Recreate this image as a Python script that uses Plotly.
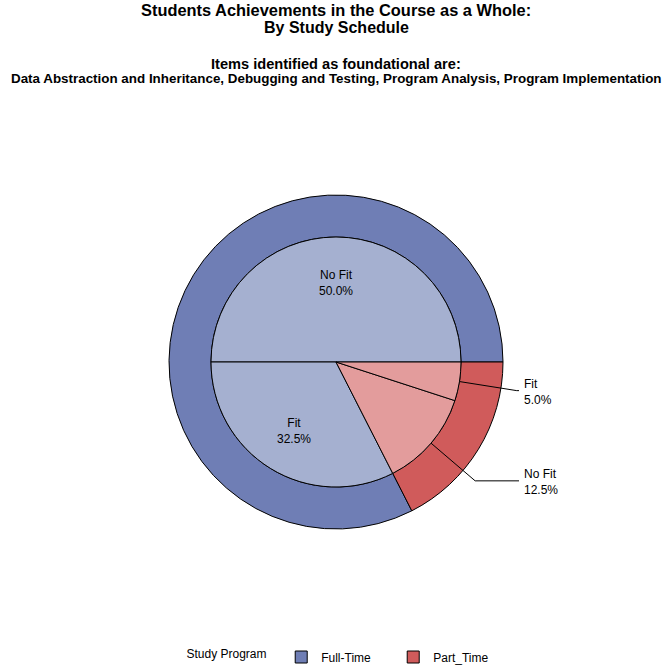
import plotly.graph_objects as go
import numpy as np

# outer ring: study schedule
schedules = ["Full-Time", "Part_Time"]
schedule_pct = [82.5, 17.5]

# inner pie: fit / no fit within each schedule
fit_labels = ["No Fit", "Fit", "No Fit", "Fit"]
fit_schedule = ["Full-Time", "Full-Time", "Part_Time", "Part_Time"]
fit_pct = [50.0, 32.5, 12.5, 5.0]

title_lines = ["Students Achievements in the Course as a Whole:", "By Study Schedule"]
foot_lines = ["Items identified as foundational are:",
              "Data Abstraction and Inheritance, Debugging and Testing, Program Analysis, Program Implementation"]

outer_colors = {"Full-Time": "#6F7EB5", "Part_Time": "#D05B5B"}
inner_colors = {"Full-Time": "#A5B0D0", "Part_Time": "#E39C9C"}
FONT = "Liberation Sans, Arial, sans-serif"

W = H = 672
cx, cy = 336, 362      # pie centre, px from top left
r_out, r_in = 167, 125


def px(x, y):
    return x / W, 1 - y / H


def dom(r):
    return dict(x=[(cx - r) / W, (cx + r) / W], y=[(H - cy - r) / H, (H - cy + r) / H])


def start_at_3(vals):
    # plotly puts the first ccw slice clockwise of `rotation`; shift so slices start at 3 o'clock
    return 90 - 360 * vals[0] / sum(vals)


def label(x, y, txt, xanchor="center"):
    xp, yp = px(x, y)
    fig.add_annotation(x=xp, y=yp, xref="paper", yref="paper", text=txt, showarrow=False,
                       xanchor=xanchor, yanchor="middle", align=xanchor if xanchor != "center" else "center",
                       font=dict(family=FONT, size=12, color="black"))


fig = go.Figure()

fig.add_trace(go.Pie(
    labels=schedules, values=schedule_pct, hole=r_in / r_out, sort=False,
    direction="counterclockwise", rotation=start_at_3(schedule_pct), textinfo="none",
    marker=dict(colors=[outer_colors[s] for s in schedules], line=dict(color="black", width=1)),
    domain=dom(r_out), name="Study Program"))

fig.add_trace(go.Pie(
    labels=[f"{s} {f}" for s, f in zip(fit_schedule, fit_labels)], values=fit_pct, sort=False,
    direction="counterclockwise", rotation=start_at_3(fit_pct), textinfo="none", showlegend=False,
    marker=dict(colors=[inner_colors[s] for s in fit_schedule], line=dict(color="black", width=1)),
    domain=dom(r_in)))

# slice labels
total = sum(fit_pct)
cum = np.cumsum([0] + fit_pct[:-1])
for lab, v, c in zip(fit_labels, fit_pct, cum):
    th = np.radians((c + v / 2) / total * 360)
    txt = f"{lab}<br>{v:.1f}%"
    if v >= 20:
        r = 0.64 * r_in
        label(cx + r * np.cos(th), cy - r * np.sin(th) + 1, txt)
    else:
        x0, y0 = cx + r_in * np.cos(th), cy - r_in * np.sin(th)
        x1, y1 = cx + 183 * np.cos(th), cy - 183 * np.sin(th)
        x2 = cx + 183
        a, b = px(x0, y0)
        c1, d1 = px(x1, y1)
        e, f = px(x2, y1)
        fig.add_shape(type="path", xref="paper", yref="paper",
                      path=f"M{a},{b} L{c1},{d1} L{e},{f}",
                      line=dict(color="black", width=1))
        label(x2 + 3, y1 + 1.5, txt, xanchor="left")

# titles
for txt, y, size in [(title_lines[0], 10, 16.4), (title_lines[1], 28, 16),
                     (foot_lines[0], 64, 14.6), (foot_lines[1], 78, 13.4)]:
    fig.add_annotation(x=0.5, y=px(0, y)[1], xref="paper", yref="paper", text=f"<b>{txt}</b>",
                       showarrow=False, yanchor="middle",
                       font=dict(family=FONT, size=size, color="black"))

fig.update_layout(
    width=W, height=H, margin=dict(l=0, r=0, t=0, b=0),
    paper_bgcolor="white", plot_bgcolor="white",
    legend=dict(orientation="h", x=0.5 + 9 / W, xanchor="center", y=px(0, 657)[1], yanchor="middle",
                entrywidth=67,
                title=dict(text="Study Program  ", side="left",
                           font=dict(family=FONT, size=12, color="black")),
                font=dict(family=FONT, size=12, color="black")),
)

fig.write_html("out.html", config={"displayModeBar": False},
               post_script="document.body.style.margin='0';")
